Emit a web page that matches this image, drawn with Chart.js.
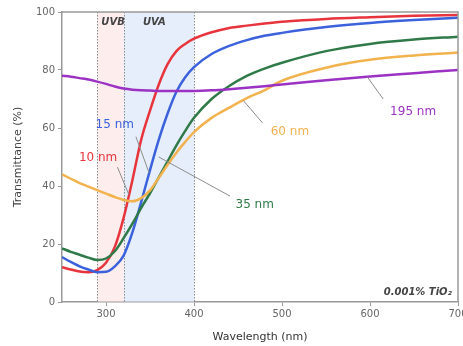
<!DOCTYPE html>
<html>
<head>
<meta charset="utf-8">
<script src="https://cdn.jsdelivr.net/npm/chart.js@4.4.0/dist/chart.umd.min.js"></script>
<style>
  html, body { margin: 0; padding: 0; background: #fff; }
  #wrap { width: 463px; height: 346px; }
</style>
</head>
<body>
<div id="wrap"><canvas id="chart" width="463" height="346"></canvas></div>
<script>
// wavelength grid (nm) the curves were read at
const wavelengths = [250, 260, 270, 280, 290, 300, 310, 320, 330, 340, 350, 360, 370, 380, 390, 400, 420, 440, 460, 480, 500, 550, 600, 650, 700];

const t10nm  = [12, 11.2, 10.5, 10.3, 11, 13.5, 19, 29, 42, 56, 66, 75, 82, 86.5, 89, 90.8, 93, 94.5, 95.3, 96, 96.6, 97.6, 98.2, 98.7, 99];
const t15nm  = [15.5, 13.8, 12.3, 11.2, 10.3, 10.4, 12.3, 16, 24, 34.5, 45.5, 56, 65, 72.5, 77.5, 81, 85.5, 88.3, 90.3, 91.8, 92.8, 94.8, 96.2, 97.2, 98];
const t35nm  = [18.5, 17.3, 16.3, 15.3, 14.5, 15, 17.5, 22, 27, 32.5, 37.5, 43, 48.5, 54, 59, 63.5, 70, 74.5, 78, 80.5, 82.5, 86.5, 89, 90.5, 91.5];
const t60nm  = [44, 42.5, 41, 39.8, 38.6, 37.4, 36.2, 35.2, 34.7, 35.8, 38.5, 42.8, 47.3, 51.5, 55.2, 58.6, 63.5, 67, 70.3, 73, 76.3, 80.8, 83.5, 85, 86];
const t195nm = [78, 77.7, 77.2, 76.7, 76, 75.2, 74.3, 73.6, 73.2, 73, 72.9, 72.8, 72.8, 72.8, 72.8, 72.8, 73, 73.4, 73.9, 74.4, 75, 76.5, 77.8, 78.9, 80];

const seriesNames = ['195 nm', '60 nm', '35 nm', '15 nm', '10 nm'];
const xTicks = [300, 400, 500, 600, 700];
const yTicks = [0, 20, 40, 60, 80, 100];
const bandEdges = [290, 320, 400];   // UVB 290-320, UVA 320-400
const bandNames = ['UVB', 'UVA'];
const bandNameAt = [308, 355];

const colors = {
  '10 nm': '#e8343c',
  '15 nm': '#3b62dc',
  '35 nm': '#2f7a48',
  '60 nm': '#f2b24e',
  '195 nm': '#9b32c4'
};

const toPoints = (vals) => vals.map((v, i) => ({ x: wavelengths[i], y: v }));
const seriesData = { '10 nm': t10nm, '15 nm': t15nm, '35 nm': t35nm, '60 nm': t60nm, '195 nm': t195nm };

// curve labels: where the text sits and where its pointer goes (data units)
const notes = [
  { name: '15 nm',  at: [310, 61],   from: [334, 57],   to: [349, 44.5] },
  { name: '10 nm',  at: [291, 49.7], from: [313, 46.5], to: [326, 37] },
  { name: '35 nm',  at: [469, 33.4], from: [441, 36.5], to: [360, 50] },
  { name: '60 nm',  at: [509, 58.6], from: [478, 61.7], to: [456, 69.5] },
  { name: '195 nm', at: [649, 65.5], from: [615, 70],   to: [597, 77.6] }
];

const bands = {
  id: 'bands',
  beforeDatasetsDraw(chart) {
    const { ctx, chartArea: a, scales: { x } } = chart;
    const fills = ['rgba(252, 222, 222, 0.55)', 'rgba(214, 226, 248, 0.6)'];
    ctx.save();
    for (let i = 0; i < bandEdges.length - 1; i++) {
      const x0 = x.getPixelForValue(bandEdges[i]);
      const x1 = x.getPixelForValue(bandEdges[i + 1]);
      ctx.fillStyle = fills[i];
      ctx.fillRect(x0, a.top, x1 - x0, a.bottom - a.top);
    }
    ctx.strokeStyle = '#8a8a8a';
    ctx.lineWidth = 1;
    ctx.setLineDash([1.5, 1.5]);
    bandEdges.forEach(w => {
      const px = Math.round(x.getPixelForValue(w)) + 0.5;
      ctx.beginPath();
      ctx.moveTo(px, a.top);
      ctx.lineTo(px, a.bottom);
      ctx.stroke();
    });
    ctx.setLineDash([]);
    // band names
    ctx.fillStyle = '#444';
    ctx.font = 'italic bold 10px "DejaVu Sans"';
    ctx.textAlign = 'center';
    ctx.textBaseline = 'middle';
    bandNames.forEach((t, i) => ctx.fillText(t, x.getPixelForValue(bandNameAt[i]), a.top + 10));
    ctx.restore();
  },
  afterDraw(chart) {
    const { ctx, chartArea: a, scales: { x, y } } = chart;
    ctx.save();
    // box around plot
    ctx.strokeStyle = '#999';
    ctx.lineWidth = 1.5;
    ctx.beginPath();
    ctx.moveTo(a.left, a.top);
    ctx.lineTo(a.right, a.top);
    ctx.lineTo(a.right, a.bottom);
    ctx.stroke();

    // pointers + labels
    ctx.lineWidth = 1;
    ctx.font = '12px "DejaVu Sans"';
    ctx.textAlign = 'center';
    ctx.textBaseline = 'middle';
    notes.forEach(n => {
      ctx.strokeStyle = '#8c8c8c';
      ctx.beginPath();
      ctx.moveTo(x.getPixelForValue(n.from[0]), y.getPixelForValue(n.from[1]));
      ctx.lineTo(x.getPixelForValue(n.to[0]), y.getPixelForValue(n.to[1]));
      ctx.stroke();
      ctx.fillStyle = colors[n.name];
      ctx.fillText(n.name, x.getPixelForValue(n.at[0]), y.getPixelForValue(n.at[1]));
    });

    ctx.fillStyle = '#444';
    ctx.font = 'italic bold 10px "DejaVu Sans"';
    ctx.textAlign = 'right';
    ctx.fillText('0.001% TiO\u2082', a.right - 6, a.bottom - 10);
    ctx.restore();
  }
};

new Chart(document.getElementById('chart'), {
  type: 'line',
  data: {
    datasets: seriesNames.map(name => ({
      label: name,
      data: toPoints(seriesData[name]),
      borderColor: colors[name],
      borderWidth: 2.5,
      pointRadius: 0,
      fill: false,
      tension: 0.4,
      cubicInterpolationMode: 'monotone'
    }))
  },
  options: {
    responsive: false,
    animation: false,
    layout: { padding: { left: 0, right: 5, top: 12, bottom: 0 } },
    plugins: { legend: { display: false }, tooltip: { enabled: false } },
    scales: {
      x: {
        type: 'linear',
        min: 250,
        max: 700,
        afterBuildTicks: s => { s.ticks = xTicks.map(v => ({ value: v })); },
        afterFit: s => { s.height = 44; s.paddingLeft = 0; s.paddingRight = 0; },
        grid: { drawOnChartArea: false, drawTicks: true, tickLength: 4, color: '#999' },
        border: { display: true, color: '#999', width: 1.5 },
        ticks: { color: '#666', font: { family: 'DejaVu Sans', size: 10 }, padding: 2, maxRotation: 0 },
        title: { display: true, text: 'Wavelength (nm)', color: '#333', font: { family: 'DejaVu Sans', size: 11 }, padding: { top: 0, bottom: 2 } }
      },
      y: {
        min: 0,
        max: 100,
        afterBuildTicks: s => { s.ticks = yTicks.map(v => ({ value: v })); },
        afterFit: s => { s.width = 62; },
        grid: { drawOnChartArea: false, drawTicks: true, tickLength: 4, color: '#999' },
        border: { display: true, color: '#999', width: 1.5 },
        ticks: { color: '#666', font: { family: 'DejaVu Sans', size: 10 }, padding: 3 },
        title: { display: true, text: 'Transmittance (%)', color: '#444', font: { family: 'DejaVu Sans', size: 11 }, padding: { top: 12, bottom: 0 } }
      }
    }
  },
  plugins: [bands]
});
</script>
</body>
</html>
